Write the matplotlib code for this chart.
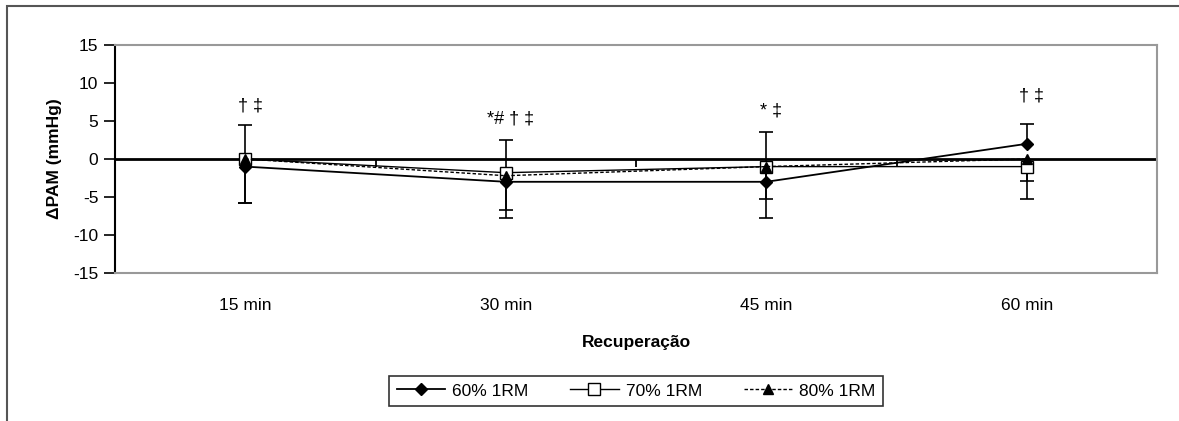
import matplotlib
matplotlib.use("Agg")
import matplotlib.pyplot as plt
from matplotlib.patches import Rectangle
import numpy as np

plt.rcParams['font.family'] = ['Liberation Sans', 'DejaVu Sans']
plt.rcParams['axes.unicode_minus'] = False

categories = ["15 min", "30 min", "45 min", "60 min"]
series_names = ["60% 1RM", "70% 1RM", "80% 1RM"]

s60 = [-1.0, -3.0, -3.0, 2.0]
s70 = [0.0, -1.8, -1.0, -1.0]
s80 = [0.0, -2.2, -1.0, 0.0]

# one-sided error bars as drawn in the original (0 = not shown)
err60_lo = [0.0, 0.0, 0.0, 0.0]
err60_hi = [5.5, 5.5, 6.6, 2.6]
err70_lo = [5.8, 4.9, 4.2, 4.2]
err70_hi = [0.0, 0.0, 0.0, 0.0]
err80_lo = [5.8, 5.6, 6.8, 2.9]
err80_hi = [0.0, 0.0, 0.0, 0.0]

annot_text = ["\u2020 \u2021", "*# \u2020 \u2021", "* \u2021", "\u2020 \u2021"]
annot_y = [7.0, 5.3, 6.3, 8.3]

W, H = 1179, 421
fig = plt.figure(figsize=(W / 100, H / 100), dpi=100)
ax = fig.add_axes([115 / W, 1 - 273 / H, (1157 - 115) / W, (273 - 45) / H])

x = np.arange(len(categories))

styles = [
    dict(marker='D', markersize=6, markerfacecolor='black', markeredgecolor='black',
         linestyle='-', linewidth=1.3),
    dict(marker='s', markersize=8, markerfacecolor='white', markeredgecolor='black',
         linestyle='-', linewidth=1.0),
    dict(marker='^', markersize=7, markerfacecolor='black', markeredgecolor='black',
         linestyle=(0, (2.5, 1.5)), linewidth=1.0),
]
data = [(s60, err60_lo, err60_hi), (s70, err70_lo, err70_hi), (s80, err80_lo, err80_hi)]

ax.axhline(0, color='black', linewidth=2.0, zorder=1.5)

handles = []
for (vals, lo, hi), st, name in zip(data, styles, series_names):
    v = np.array(vals, dtype=float)
    lo_a = np.array(lo, dtype=float)
    hi_a = np.array(hi, dtype=float)
    ymin = v - lo_a
    ymax = v + hi_a
    ax.vlines(x, ymin, ymax, color='black', linewidth=1.2, zorder=2)
    cap_lo = lo_a > 0
    cap_hi = hi_a > 0
    ax.plot(x[cap_lo], ymin[cap_lo], linestyle='none', marker='_', markersize=10,
            markeredgewidth=1.2, color='black', zorder=2)
    ax.plot(x[cap_hi], ymax[cap_hi], linestyle='none', marker='_', markersize=10,
            markeredgewidth=1.2, color='black', zorder=2)
    h, = ax.plot(x, v, color='black', label=name, zorder=3, **st)
    handles.append(h)

for xi, t, yv in zip(x, annot_text, annot_y):
    ax.text(xi + 0.02, yv, t, ha='center', va='center', fontsize=13, color='black')

ax.set_xlim(-0.5, len(categories) - 0.5)
ax.set_ylim(-15, 15)
ax.set_yticks([-15, -10, -5, 0, 5, 10, 15])
ax.tick_params(axis='y', direction='out', length=8, width=1.2, labelsize=12.5, pad=4)
ax.set_xticks(x)
ax.set_xticklabels(categories)
ax.tick_params(axis='x', length=0, labelsize=12.5, pad=18)

for s in ['top', 'right', 'bottom']:
    ax.spines[s].set_color('#999999')
    ax.spines[s].set_linewidth(1.5)
ax.spines['left'].set_color('black')
ax.spines['left'].set_linewidth(1.5)

sec = ax.secondary_xaxis(0.5)
sec.set_xticks([0.5, 1.5, 2.5])
sec.set_xticklabels(['', '', ''])
sec.tick_params(axis='x', direction='in', length=6, width=1.3, color='black')
for sp in sec.spines.values():
    sp.set_visible(False)

ax.set_ylabel("\u0394PAM (mmHg)", fontsize=12.5, fontweight='bold', labelpad=8)
ax.set_xlabel("Recuperação", fontsize=12.5, fontweight='bold', labelpad=16)

leg = fig.legend(handles=handles, labels=series_names, loc='center',
                 bbox_to_anchor=(636 / W, 1 - 391 / H), ncol=3, fontsize=12.5,
                 frameon=True, fancybox=False, edgecolor='black', handlelength=2.8,
                 columnspacing=2.4, handletextpad=0.4, borderpad=0.45, borderaxespad=0,
                 )
leg.get_frame().set_linewidth(1.2)

fig.patches.append(Rectangle((7 / W, -0.1), 1.2, 1.1 - 6 / H, transform=fig.transFigure,
                             fill=False, edgecolor='#555555', linewidth=1.5))

fig.savefig("out.png", dpi=100)
